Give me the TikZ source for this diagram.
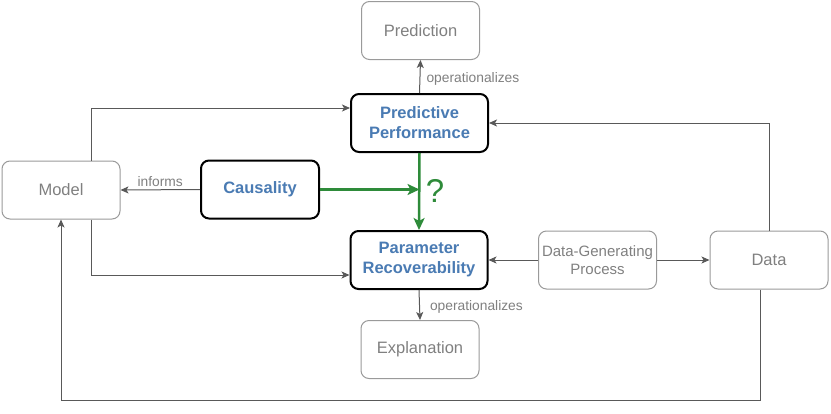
\documentclass[tikz,border=0pt]{standalone}
\usepackage{fontspec}
\setmainfont{Liberation Sans}
\usetikzlibrary{arrows.meta}
\definecolor{txtgray}{HTML}{808080}
\definecolor{boxgray}{HTML}{9A9A9A}
\definecolor{linegray}{HTML}{595959}
\definecolor{myblue}{HTML}{4A7BB3}
\definecolor{mygreen}{HTML}{2E8B3A}
\begin{document}
\begin{tikzpicture}[x=1pt,y=-1pt,
  graybox/.style={draw=boxgray, line width=1pt, rounded corners=8pt, minimum width=118pt, minimum height=58pt, text=txtgray, font=\fontsize{16.5}{19}\selectfont, align=center, inner sep=0pt},
  keybox/.style={draw=black, line width=2pt, rounded corners=8pt, minimum width=137pt, minimum height=58pt, text=myblue, font=\bfseries\fontsize{16.5}{20}\selectfont, align=center, inner sep=0pt},
  conn/.style={draw=linegray, line width=1pt, -{Stealth[length=8pt,width=7pt,inset=2pt]}},
  lbl/.style={text=txtgray, font=\fontsize{13.8}{16}\selectfont, inner sep=1pt},
  greenline/.style={draw=mygreen, line width=2.5pt, -{Stealth[length=12pt,width=11pt,inset=3pt]}}]
\useasboundingbox (0,0) rectangle (831,413);
\fill[white] (0,0) rectangle (831,413);

\node[graybox] (pred) at (420.5,30.5) {Prediction};
\node[keybox] (pp) at (419.5,123) {Predictive\\Performance};
\node[keybox, minimum width=118pt] (caus) at (260,189.5) {Causality};
\node[graybox] (model) at (61,190) {Model};
\node[keybox] (pr) at (419,260) {Parameter\\Recoverability};
\node[graybox] (expl) at (420,349.5) {Explanation};
\node[graybox, font=\fontsize{15}{18.3}\selectfont] (dgp) at (597.5,260) {Data-Generating\\Process};
\node[graybox] (data) at (769,260) {Data};
\coordinate (bottomrail) at (0,400);

\draw[conn] (pp.north) -- node[lbl, right, xshift=5pt, yshift=-2.5pt]{operationalizes} (pred.south);
\draw[conn] (pr.south) -- node[lbl, right, xshift=9pt, yshift=-1.5pt]{operationalizes} (expl.north);
\draw[conn] (caus.west) -- node[lbl, above, yshift=1.5pt]{informs} (model.east);
\draw[conn] ([xshift=30pt]model.north) |- ([yshift=15pt]pp.west);
\draw[conn] ([xshift=30pt]model.south) |- ([yshift=-15pt]pr.west);
\draw[conn] (data.north) |- (pp.east);
\draw[conn] (dgp.west) -- (pr.east);
\draw[conn] (dgp.east) -- (data.west);
\draw[conn] ([xshift=-9pt]data.south) |- (bottomrail -| model.south) -- (model.south);

\draw[greenline] (pp.south) -- (pr.north);
\draw[greenline] (caus.east) -- (caus.east -| pp.south);
\node[text=mygreen, font=\fontsize{33}{33}\selectfont, inner sep=0pt] (q) at (435,191) {?};
\end{tikzpicture}
\end{document}
